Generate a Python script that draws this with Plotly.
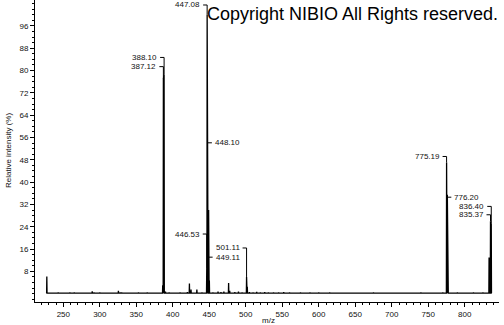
import plotly.graph_objects as go

# ---- data ----
peak_mz = [227.4, 243.0, 259.0, 265.0, 289.6, 292.0, 300.0, 325.5, 328.0, 330.0, 353.0, 365.0,
           386.2, 387.12, 388.10, 390.0, 395.0, 410.0, 420.0, 422.8, 425.0, 433.0, 440.0,
           446.53, 447.08, 448.10, 449.11, 450.1, 455.0, 462.0, 466.0, 470.0, 476.5, 478.0,
           485.0, 490.0, 495.0, 501.11, 502.1, 505.0, 510.0, 515.0, 520.0, 526.0, 531.0,
           538.0, 545.0, 552.0, 560.0, 575.0, 588.0, 600.0, 615.0, 675.0, 740.0, 770.0,
           775.19, 776.20, 777.2, 790.0, 812.0, 825.0, 833.4, 835.37, 836.40]
peak_int = [6.2, 0.5, 0.4, 0.4, 0.9, 0.5, 0.4, 1.0, 0.5, 0.4, 0.4, 0.4,
            3.0, 77.0, 78.5, 0.8, 0.4, 0.4, 0.6, 3.7, 1.5, 1.5, 0.4,
            9.0, 100.0, 75.0, 30.0, 4.7, 0.5, 0.8, 0.6, 0.8, 3.8, 1.0,
            0.6, 0.8, 0.5, 6.0, 2.5, 0.6, 0.5, 0.7, 0.5, 0.6, 0.5,
            0.5, 0.4, 0.6, 0.4, 0.4, 0.4, 0.5, 0.4, 0.4, 0.4, 0.5,
            47.0, 35.5, 10.0, 0.4, 0.4, 0.4, 13.0, 26.0, 25.0]
baseline = 0.2

label_mz = ["388.10", "387.12", "447.08", "448.10", "446.53", "449.11", "501.11",
            "775.19", "776.20", "836.40", "835.37"]
label_side = ["left", "left", "left", "right", "left", "right", "left",
              "left", "right", "left", "left"]
label_level = [84.7, 81.4, 103.5, 54.1, 21.4, 13.1, 16.4, 49.2, 34.6, 31.3, 28.3]

y_ticks = [8, 16, 24, 32, 40, 48, 56, 64, 72, 80, 88, 96]

# ---- build profile from centroid list ----
xs, ys = [], []
d = 0.3
for m, v in zip(peak_mz, peak_int):
    xs += [m - d, m, m + d]
    ys += [baseline, v, baseline]

fig = go.Figure()
fig.add_trace(go.Scatter(x=xs, y=ys, mode="lines",
                         line=dict(color="black", width=1.3), hoverinfo="skip",
                         showlegend=False))

FONT = "Liberation Sans, Arial, sans-serif"
lab_font = dict(family=FONT, size=8, color="#111")
shapes = []
annotations = []
for lab, side, lvl in zip(label_mz, label_side, label_level):
    m = float(lab)
    top = peak_int[min(range(len(peak_mz)), key=lambda i: abs(peak_mz[i] - m))]
    if side == "left":
        shapes.append(dict(type="line", xref="x", yref="y", xsizemode="pixel", xanchor=m,
                           x0=-4, x1=0, y0=lvl, y1=lvl, line=dict(color="black", width=1)))
        shapes.append(dict(type="line", xref="x", yref="y", x0=m, x1=m, y0=lvl, y1=top,
                           line=dict(color="black", width=1)))
        annotations.append(dict(x=m, y=lvl, xref="x", yref="y", text=lab, showarrow=False,
                                xanchor="right", yanchor="middle", xshift=-5, font=lab_font))
    else:
        shapes.append(dict(type="line", xref="x", yref="y", xsizemode="pixel", xanchor=m,
                           x0=0, x1=4, y0=lvl, y1=lvl, line=dict(color="black", width=1)))
        annotations.append(dict(x=m, y=lvl, xref="x", yref="y", text=lab, showarrow=False,
                                xanchor="left", yanchor="middle", xshift=5, font=lab_font))

annotations.append(dict(x=(8 - 35) / 464, y=0.5, xref="paper", yref="paper",
                        text="Relative intensity (%)", textangle=-90, showarrow=False,
                        xanchor="center", yanchor="middle",
                        font=dict(family=FONT, size=8, color="#111")))
annotations.append(dict(x=(268 - 35) / 464, y=-(320 - 302) / 302, xref="paper", yref="paper",
                        text="m/z", showarrow=False, xanchor="center", yanchor="middle",
                        font=dict(family=FONT, size=8, color="#111")))
annotations.append(dict(x=(352.5 - 35) / 464, y=(302 - 14) / 302, xref="paper", yref="paper",
                        text="Copyright NIBIO All Rights reserved.", showarrow=False,
                        xanchor="center", yanchor="middle",
                        font=dict(family=FONT, size=18, color="black")))

tick_font = dict(family=FONT, size=8, color="#111")
fig.update_layout(
    width=504, height=325,
    margin=dict(l=35, r=5, t=0, b=23, pad=0),
    paper_bgcolor="white", plot_bgcolor="white",
    shapes=shapes, annotations=annotations,
    xaxis=dict(range=[211.2, 847.0], showgrid=False, zeroline=False,
               showline=True, linecolor="black", linewidth=1,
               tickmode="linear", tick0=0, dtick=50, ticks="outside", ticklen=4,
               tickcolor="black", tickfont=tick_font,
               minor=dict(tickmode="linear", tick0=0, dtick=10, ticks="outside",
                          ticklen=2, tickcolor="black")),
    yaxis=dict(range=[-2.97, 105.29], showgrid=False, zeroline=False,
               showline=True, linecolor="black", linewidth=1,
               tickmode="array", tickvals=y_ticks, ticktext=[str(t) for t in y_ticks],
               ticks="outside", ticklen=4, tickcolor="black", tickfont=tick_font,
               minor=dict(tickmode="linear", tick0=0, dtick=2, ticks="outside",
                          ticklen=2, tickcolor="black")),
)

fig.write_html("out.html")
